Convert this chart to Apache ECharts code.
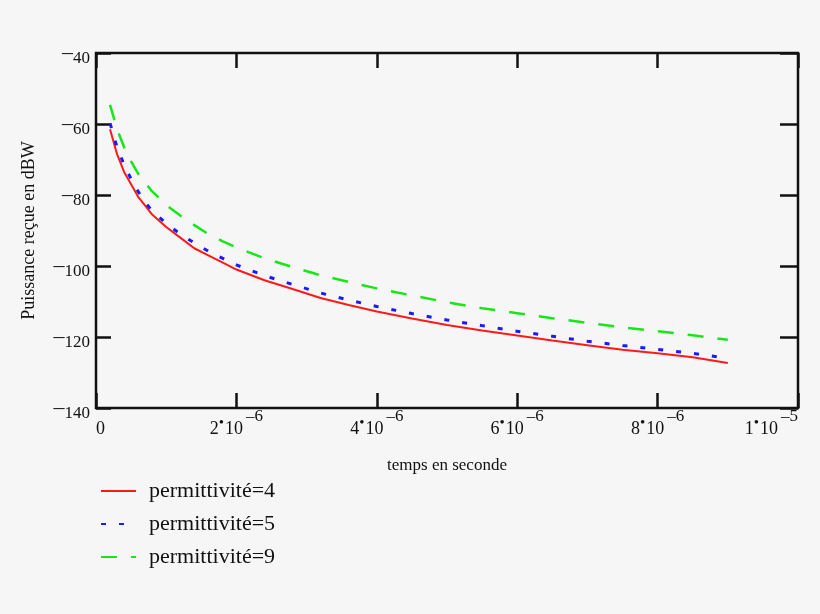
<!DOCTYPE html>
<html>
<head>
<meta charset="utf-8">
<script src="https://cdn.jsdelivr.net/npm/echarts@6/dist/echarts.min.js"></script>
<style>
  html, body { margin: 0; padding: 0; background: #f6f6f6; }
  #chart { width: 820px; height: 614px; }
</style>
</head>
<body>
<div id="chart"></div>
<script>
// time samples (µs) and received power (dBW)
const timeUs = [0.2, 0.3, 0.4, 0.5, 0.6, 0.7, 0.8, 1.0, 1.2, 1.4, 1.6, 1.8, 2.0, 2.4,
  2.8, 3.2, 3.6, 4.0, 4.5, 5.0, 5.5, 6.0, 6.5, 7.0, 7.5, 8.0, 8.5, 9.0];
const perm4 = [-61.5, -68.5, -73.5, -77, -80.5, -83, -85.5, -89, -92, -95, -97, -99, -101, -104,
  -106.5, -109, -111, -112.8, -114.8, -116.6, -118.2, -119.6, -121, -122.3, -123.6, -124.6, -125.7, -127.3];
const perm5 = [-59.8, -66.5, -71.5, -75.5, -79, -82, -84.5, -88, -91, -93.5, -95.8, -97.8, -99.7, -102.7,
  -105.2, -107.6, -109.6, -111.4, -113.4, -115.2, -116.8, -118.4, -119.8, -121.2, -122.4, -123.5, -124.6, -126];
const perm9 = [-54.6, -61.5, -66.5, -70.5, -74, -76.5, -79, -82.8, -85.8, -88.5, -91, -93, -94.8, -97.8,
  -100.3, -102.6, -104.5, -106.3, -108.3, -110.2, -111.9, -113.3, -114.7, -116, -117.3, -118.4, -119.5, -120.8];
const seriesNames = ["permittivité=4", "permittivité=5", "permittivité=9"];

const FONT = "Liberation Serif";
const INK = "#111";
const pairs = (ys) => timeUs.map((t, i) => [t * 1e-6, ys[i]]);

// Mathcad-style "2•10⁻⁶" tick labels
function xLabel(v) {
  if (Math.abs(v) < 1e-12) return "{b|0}";
  const [m, e] = v.toExponential(0).split("e");
  return `{b|${m}}{d|•}{b|10}{s|–${Math.abs(+e)}}`;
}

const tick = (len) => ({ inside: true, length: len, lineStyle: { color: INK, width: 2.5 } });
const noLine = { show: false, onZero: false };

const chart = echarts.init(document.getElementById("chart"));
chart.setOption({
  animation: false,
  backgroundColor: "#f6f6f6",
  textStyle: { fontFamily: FONT, color: INK },
  grid: { left: 96, right: 22, top: 53, bottom: 206, show: true,
    borderColor: INK, borderWidth: 2.5, backgroundColor: "transparent" },
  legend: {
    orient: "vertical", left: 95, top: 475, itemWidth: 35, itemHeight: 14, itemGap: 11,
    itemStyle: { opacity: 0 },
    textStyle: { fontFamily: FONT, fontSize: 22, color: INK, padding: [8, 0, 0, 8] },
    data: seriesNames,
  },
  xAxis: [
    { type: "value", position: "bottom", min: 0, max: 1e-5, interval: 2e-6,
      name: "temps en seconde", nameLocation: "middle", nameGap: 49,
      nameTextStyle: { fontFamily: FONT, fontSize: 17, color: INK },
      axisLine: noLine, splitLine: { show: false }, axisTick: tick(15),
      axisLabel: { margin: 0, verticalAlign: "top", alignMinLabel: "left", alignMaxLabel: "right",
        formatter: xLabel,
        rich: {
          b: { fontFamily: FONT, fontSize: 18, color: INK, lineHeight: 30, verticalAlign: "bottom" },
          d: { fontFamily: FONT, fontSize: 15, color: INK, lineHeight: 30, padding: [0, 1, 0, 0], verticalAlign: "middle" },
          s: { fontFamily: FONT, fontSize: 17, color: INK, lineHeight: 30, padding: [0, 0, 0, 3], verticalAlign: "top" },
        } } },
    { type: "value", position: "top", min: 0, max: 1e-5, interval: 2e-6,
      axisLine: noLine, splitLine: { show: false }, axisLabel: { show: false }, axisTick: tick(15) },
  ],
  yAxis: [
    { type: "value", position: "left", min: -140, max: -40, interval: 20,
      name: "Puissance reçue en dBW", nameLocation: "middle", nameGap: 58, nameRotate: 90,
      nameTextStyle: { fontFamily: FONT, fontSize: 18, color: INK },
      axisLine: noLine, splitLine: { show: false }, axisTick: tick(15),
      axisLabel: { margin: 6,
        formatter: (v) => `{m|–}{n|${Math.abs(v)}}`,
        rich: {
          m: { fontFamily: FONT, fontSize: 22, color: INK, lineHeight: 28, verticalAlign: "middle" },
          n: { fontFamily: FONT, fontSize: 17, color: INK, lineHeight: 28, verticalAlign: "bottom" },
        } } },
    { type: "value", position: "right", min: -140, max: -40, interval: 20,
      axisLine: noLine, splitLine: { show: false }, axisLabel: { show: false }, axisTick: tick(18) },
  ],
  series: [
    { name: seriesNames[0], type: "line", data: pairs(perm4), symbol: "none",
      lineStyle: { color: "#ff1a1a", width: 2 } },
    { name: seriesNames[1], type: "line", data: pairs(perm5), symbol: "none",
      lineStyle: { color: "#1a1aff", width: 3, type: [5, 13] } },
    { name: seriesNames[2], type: "line", data: pairs(perm9), symbol: "none",
      lineStyle: { color: "#19e619", width: 2.5, type: [16, 14] } },
  ],
});
</script>
</body>
</html>
